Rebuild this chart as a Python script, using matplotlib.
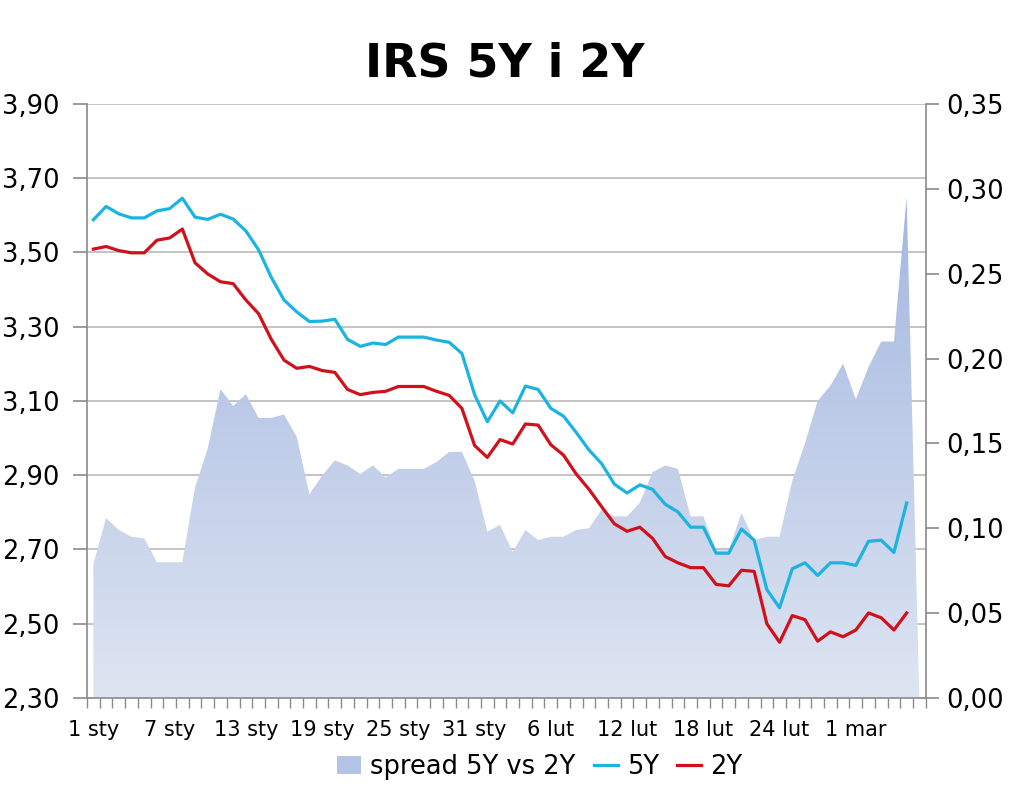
import numpy as np
import matplotlib
matplotlib.use("Agg")
import matplotlib.pyplot as plt
from matplotlib.patches import Patch
from matplotlib.lines import Line2D
from matplotlib.ticker import FuncFormatter
from matplotlib.colors import to_rgb

# ---- data ----
irs_5y = [3.588, 3.624, 3.604, 3.593, 3.593, 3.612, 3.618, 3.646, 3.595, 3.589,
          3.603, 3.590, 3.558, 3.507, 3.433, 3.372, 3.340, 3.314, 3.315, 3.320,
          3.266, 3.247, 3.256, 3.252, 3.272, 3.272, 3.272, 3.264, 3.258, 3.228,
          3.117, 3.044, 3.100, 3.068, 3.140, 3.131, 3.080, 3.059, 3.015, 2.968,
          2.931, 2.876, 2.852, 2.874, 2.862, 2.822, 2.801, 2.760, 2.760, 2.690,
          2.690, 2.755, 2.725, 2.592, 2.543, 2.648, 2.664, 2.630, 2.664, 2.664,
          2.657, 2.722, 2.725, 2.692, 2.825]
irs_2y = [3.509, 3.516, 3.505, 3.499, 3.499, 3.533, 3.539, 3.563, 3.472, 3.442,
          3.421, 3.416, 3.372, 3.335, 3.266, 3.210, 3.188, 3.193, 3.182, 3.177,
          3.131, 3.117, 3.123, 3.126, 3.139, 3.139, 3.139, 3.126, 3.115, 3.080,
          2.980, 2.948, 2.996, 2.984, 3.038, 3.035, 2.982, 2.954, 2.903, 2.862,
          2.815, 2.769, 2.749, 2.760, 2.730, 2.681, 2.664, 2.651, 2.651, 2.606,
          2.602, 2.644, 2.641, 2.500, 2.450, 2.522, 2.511, 2.453, 2.478, 2.465,
          2.483, 2.529, 2.516, 2.483, 2.529]
spread = [0.079, 0.106, 0.099, 0.095, 0.094, 0.080, 0.080, 0.080, 0.124, 0.147,
          0.182, 0.172, 0.179, 0.165, 0.165, 0.167, 0.154, 0.120, 0.131, 0.140,
          0.137, 0.132, 0.137, 0.130, 0.135, 0.135, 0.135, 0.139, 0.145, 0.145,
          0.128, 0.098, 0.102, 0.086, 0.099, 0.093, 0.095, 0.095, 0.099, 0.100,
          0.111, 0.107, 0.107, 0.115, 0.133, 0.137, 0.135, 0.107, 0.107, 0.087,
          0.087, 0.109, 0.093, 0.095, 0.095, 0.128, 0.150, 0.175, 0.184, 0.197,
          0.176, 0.195, 0.210, 0.210, 0.295, 0.000]
n_days = 66
tick_labels = ["1 sty", "7 sty", "13 sty", "19 sty", "25 sty", "31 sty",
               "6 lut", "12 lut", "18 lut", "24 lut", "1 mar"]
label_step = 6

title = "IRS 5Y i 2Y"
c5 = "#1BB3E0"
c2 = "#D0111B"
grid_c = "#C4C4C4"
spine_c = "#8A8A8A"

fig = plt.figure(figsize=(10.24, 7.91), dpi=100)
rect = [0.085, 0.1176, 0.819, 0.751]
ax1 = fig.add_axes(rect)          # left axis + grid
ax2 = ax1.twinx()                 # spread area, right axis
ax3 = ax1.twinx()                 # lines on top

x_area = np.arange(n_days)
x_line = np.arange(len(irs_5y))

# left axis
ax1.set_xlim(-0.5, n_days - 0.5)
ax1.set_ylim(2.30, 3.90)
ax1.set_yticks(np.arange(2.30, 3.901, 0.20))
ax1.yaxis.set_major_formatter(FuncFormatter(lambda v, p: f"{v:.2f}".replace(".", ",")))
ax1.grid(axis="y", color=grid_c, linewidth=1.4)
ax1.set_axisbelow(True)
for s in ["top", "right", "bottom"]:
    ax1.spines[s].set_visible(False)
ax1.spines["left"].set_color(spine_c)
ax1.spines["left"].set_linewidth(1.2)
ax1.tick_params(axis="y", which="major", direction="out", length=10, width=1.2,
                color=spine_c, labelsize=18.5, pad=10)

# x axis ticks: marks at category boundaries, labels every 6 categories
ax1.set_xticks(np.arange(-0.5, n_days, 1))
ax1.set_xticklabels([])
ax1.set_xticks(np.arange(0, n_days, label_step)[:len(tick_labels)], minor=True)
ax1.set_xticklabels(tick_labels, minor=True)
ax1.tick_params(axis="x", which="major", direction="out", length=7, width=1.0,
                color=spine_c)
ax1.tick_params(axis="x", which="minor", length=0, labelsize=15, pad=16)

# right axis with area
ax2.set_ylim(0, 0.35)
ax2.set_yticks(np.arange(0, 0.351, 0.05))
ax2.yaxis.set_major_formatter(FuncFormatter(lambda v, p: f"{v:.2f}".replace(".", ",")))
for s in ["top", "left", "bottom"]:
    ax2.spines[s].set_visible(False)
ax2.spines["right"].set_color(spine_c)
ax2.spines["right"].set_linewidth(1.2)
ax2.tick_params(axis="y", direction="out", length=9, width=1.2, color=spine_c,
                labelsize=18.5, pad=6)

poly = ax2.fill_between(x_area, spread, 0, facecolor="none", edgecolor="none")
top_c = np.array(to_rgb("#98AEDD"))
bot_c = np.array(to_rgb("#DEE5F2"))
t = np.linspace(0, 1, 256)[:, None]
grad = (top_c[None, :] * (1 - t) + bot_c[None, :] * t)[:, None, :]
im = ax2.imshow(grad, extent=[-0.5, n_days - 0.5, 0, 0.35], aspect="auto",
                origin="upper", interpolation="bilinear", zorder=1)
im.set_clip_path(poly.get_paths()[0], transform=ax2.transData)
ax2.set_xlim(-0.5, n_days - 0.5)
ax2.set_ylim(0, 0.35)

# lines
ax3.set_ylim(2.30, 3.90)
ax3.set_xlim(-0.5, n_days - 0.5)
ax3.plot(x_line, irs_5y, color=c5, lw=2.3, solid_joinstyle="round")
ax3.plot(x_line, irs_2y, color=c2, lw=2.3, solid_joinstyle="round")
ax3.set_yticks([])
for s in ["top", "left", "right"]:
    ax3.spines[s].set_visible(False)
ax3.spines["bottom"].set_color(spine_c)
ax3.spines["bottom"].set_linewidth(1.2)

ax1.set_zorder(0)
ax2.set_zorder(1)
ax3.set_zorder(2)
ax2.patch.set_visible(False)
ax3.patch.set_visible(False)

fig.text(0.493, 0.919, title, ha="center", va="center", fontsize=33,
         fontweight="bold")

handles = [Patch(facecolor="#B4C4E7", edgecolor="none"),
           Line2D([], [], color=c5, lw=2.3),
           Line2D([], [], color=c2, lw=2.3)]
fig.legend(handles, ["spread 5Y vs 2Y", "5Y", "2Y"], loc="center",
           bbox_to_anchor=(0.527, 0.030), ncol=3, frameon=False, fontsize=18.5,
           handlelength=0.95, handletextpad=0.35, columnspacing=0.7,
           borderaxespad=0, borderpad=0)

fig.savefig("out.png", dpi=100)
